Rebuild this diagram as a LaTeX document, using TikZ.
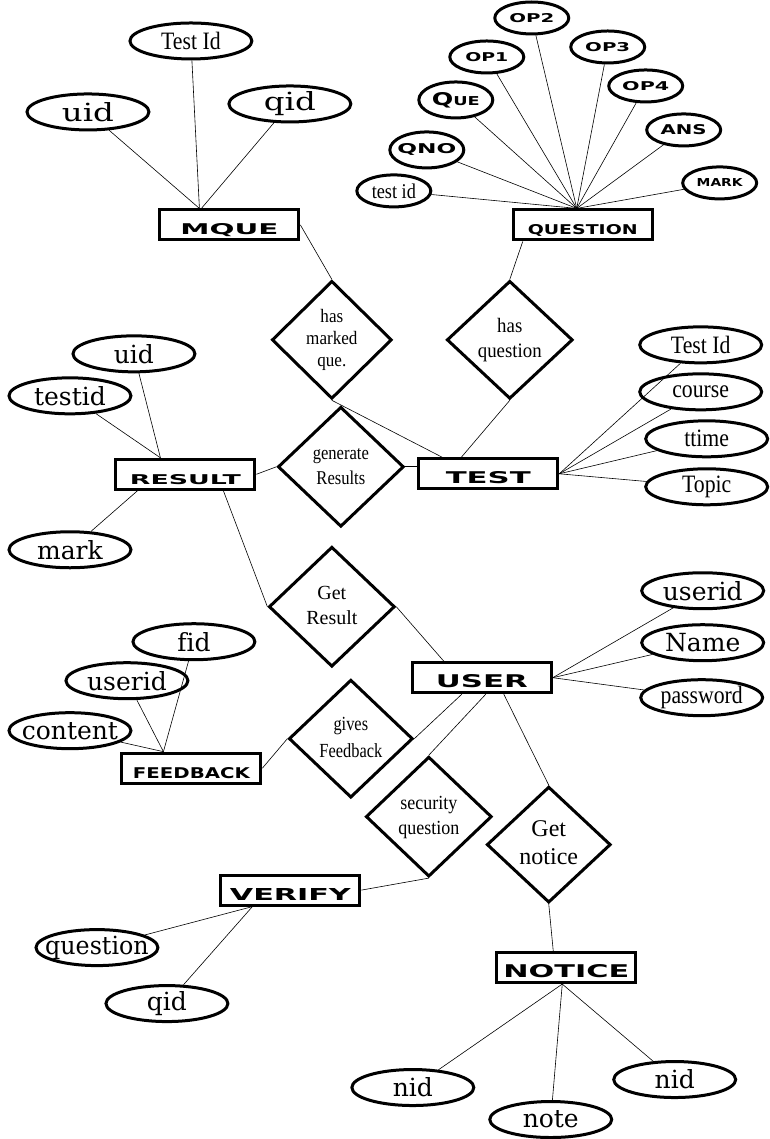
\documentclass[tikz,border=0pt]{standalone}
\usepackage{fontspec}
\usepackage{graphicx}
\setmainfont{Liberation Serif}
\newfontfamily\wideserif[Ligatures=NoCommon]{DejaVu Serif}
\newfontfamily\entfont{DejaVu Sans}
\usetikzlibrary{shapes.geometric}

\newcommand\wide[2][1]{\makebox[0pt]{\wideserif\scalebox{#1}[1]{#2}}}
\newcommand\narrow[1]{\makebox[0pt]{\scalebox{0.87}[1]{#1}}}
\newcommand\ent[3]{\resizebox{#1pt}{#2pt}{\entfont\fontsize{10}{10}\selectfont\bfseries #3}}
\newcommand\capl[3]{\makebox[0pt]{\ent{#1}{#2}{#3}}}
\newcommand\rtext[2]{\scalebox{#1}[1]{\begin{tabular}{@{}c@{}}#2\end{tabular}}}

\begin{document}
\begin{tikzpicture}[x=1pt, y=-1pt,
    entity/.style={draw, rectangle, line width=3pt, minimum width=139pt, minimum height=30pt,
      inner sep=0pt, text height=20pt, text depth=0pt},
    attr/.style={draw, ellipse, line width=3pt, minimum width=122pt, minimum height=36pt,
      inner sep=0pt, font=\fontsize{25}{25}\selectfont},
    sattr/.style={attr, minimum width=74pt, minimum height=32pt},
    rel/.style={draw, diamond, line width=3pt, inner sep=0pt,
      minimum width=126pt, minimum height=120pt},
    every edge/.style={draw, line width=0.6pt}]
  \path [fill=white] (0,0) rectangle (768,1139);

  \node [entity] (mque) at (229.5,225) {\ent{98}{11}{MQUE}};
  \node [attr] (mqtid) at (191,41) {\narrow{Test Id}};
  \node [attr] (mquid) at (88,112) {\wide[1.3]{uid}};
  \node [attr] (mqqid) at (290,104) {\wide[1.3]{qid}};

  \node [entity] (qstn) at (583,225) {\ent{110}{10}{QUESTION}};
  \node [sattr] (op2) at (532,18) {\capl{45}{9}{OP2}};
  \node [sattr] (op1) at (487,57) {\capl{43}{9}{OP1}};
  \node [sattr] (op3) at (608,47) {\capl{45}{9}{OP3}};
  \node [sattr] (op4) at (646,86) {\capl{47}{9}{OP4}};
  \node [sattr, minimum height=36pt] (que) at (456,100) {\capl{48}{13}{Q\fontsize{7}{7}\selectfont UE}};
  \node [sattr] (ans) at (684,130) {\capl{46}{10}{ANS}};
  \node [sattr, minimum height=36pt] (qno) at (427,150) {\capl{59}{10}{QNO}};
  \node [sattr, font=\fontsize{21}{21}\selectfont] (qtid) at (394,191) {\narrow{test id}};
  \node [sattr] (mark) at (720,183) {\capl{46}{8}{MARK}};

  \node [rel, minimum width=120pt, minimum height=118pt, font=\fontsize{19}{22}\selectfont] (hasmq) at (332,340) {\rtext{0.9}{has\\marked\\que.}};
  \node [rel, minimum height=118pt, font=\fontsize{20.5}{25}\selectfont] (hasq) at (510,340) {\rtext{0.92}{has\\question}};

  \node [entity] (test) at (488.5,474) {\ent{85}{12}{TEST}};
  \node [attr] (ttid) at (701,345) {\narrow{Test Id}};
  \node [attr] (course) at (701,392) {\narrow{course}};
  \node [attr] (ttime) at (707,439) {\narrow{ttime}};
  \node [attr] (topic) at (707,487) {\narrow{Topic}};

  \node [entity] (result) at (185.5,474.5) {\ent{111}{10}{RESULT}};
  \node [attr] (ruid) at (134,354) {\wide{uid}};
  \node [attr] (rtid) at (70,396) {\wide{testid}};
  \node [attr] (rmark) at (70,550) {\wide{mark}};
  \node [rel, font=\fontsize{19.5}{25}\selectfont] (genres) at (341,467) {\rtext{0.85}{generate\\Results}};
  \node [rel, font=\fontsize{20}{25}\selectfont] (getres) at (332,607) {\rtext{1}{Get\\Result}};

  \node [entity] (user) at (482,678) {\ent{92}{13}{USER}};
  \node [attr] (uuid) at (703,591) {\wide{userid}};
  \node [attr] (uname) at (703,643) {\wide{Name}};
  \node [attr] (upass) at (702,698) {\narrow{password}};

  \node [entity] (feedback) at (191.5,768.5) {\ent{117}{11}{FEEDBACK}};
  \node [attr] (fid) at (194,642) {\wide{fid}};
  \node [attr] (fuid) at (127,681) {\wide{userid}};
  \node [attr] (fcont) at (70,731) {\wide{content}};
  \node [rel, minimum width=124pt, minimum height=118pt, font=\fontsize{20}{27}\selectfont] (givfb) at (351,739) {\rtext{0.82}{gives\\Feedback}};

  \node [rel, font=\fontsize{20}{25}\selectfont] (secq) at (429,817) {\rtext{0.9}{security\\question}};
  \node [rel, minimum width=124pt, minimum height=116pt, font=\fontsize{24}{28}\selectfont] (getnot) at (549,845) {\rtext{1}{Get\\notice}};

  \node [entity] (verify) at (290.5,890.5) {\ent{121}{12}{VERIFY}};
  \node [attr] (vques) at (97,948) {\wide[0.95]{question}};
  \node [attr] (vqid) at (167,1004) {\wide{qid}};

  \node [entity] (notice) at (566.5,968) {\ent{126}{13}{NOTICE}};
  \node [attr] (nid1) at (413,1088) {\wide{nid}};
  \node [attr] (note) at (551,1120) {\wide{note}};
  \node [attr] (nid2) at (675,1080) {\wide{nid}};

  \path
  (mquid) edge ([xshift=-30pt]mque.north)
  (mqtid) edge ([xshift=-30pt]mque.north)
  (mqqid) edge ([xshift=-28pt]mque.north)
  (mque.east) edge (hasmq.north)
  (op1) edge ([xshift=-6pt]qstn.north)
  (op2) edge ([xshift=-6pt]qstn.north)
  (op3) edge ([xshift=-6pt]qstn.north)
  (op4) edge ([xshift=-6pt]qstn.north)
  (que) edge ([xshift=-6pt]qstn.north)
  (ans) edge ([xshift=-6pt]qstn.north)
  (qno) edge ([xshift=-6pt]qstn.north)
  (qtid) edge ([xshift=-6pt]qstn.north)
  (mark) edge ([xshift=-6pt]qstn.north)
  ([xshift=-60pt]qstn.south) edge (hasq.north)
  (hasmq.south) edge ([xshift=-46pt]test.north)
  (hasq.south) edge ([xshift=-27pt]test.north)
  (ttid) edge (test.east)
  (course) edge (test.east)
  (ttime) edge (test.east)
  (topic) edge (test.east)
  (ruid) edge ([xshift=-25pt]result.north)
  (rtid) edge ([xshift=-25pt]result.north)
  (rmark) edge ([xshift=-48pt]result.south)
  (result.east) edge (genres.west)
  (genres.east) edge ([yshift=7pt]test.west)
  ([xshift=38pt]result.south) edge (getres.west)
  (getres.east) edge ([xshift=-38pt]user.north)
  (uuid) edge (user.east)
  (uname) edge (user.east)
  (upass) edge (user.east)
  (fid) edge ([xshift=-28pt]feedback.north)
  (fuid) edge ([xshift=-28pt]feedback.north)
  (fcont) edge ([xshift=-28pt]feedback.north)
  (feedback.east) edge (givfb.west)
  (givfb.east) edge ([xshift=-20pt]user.south)
  ([xshift=4pt]user.south) edge (secq.north)
  ([xshift=22pt]user.south) edge (getnot.north)
  (secq.south) edge (verify.east)
  (vques) edge ([xshift=-38pt]verify.south)
  (vqid) edge ([xshift=-38pt]verify.south)
  (getnot.south) edge ([xshift=-13pt]notice.north)
  (nid1) edge ([xshift=-4pt]notice.south)
  (note) edge ([xshift=-4pt]notice.south)
  (nid2) edge ([xshift=-4pt]notice.south)
  ;
\end{tikzpicture}
\end{document}
